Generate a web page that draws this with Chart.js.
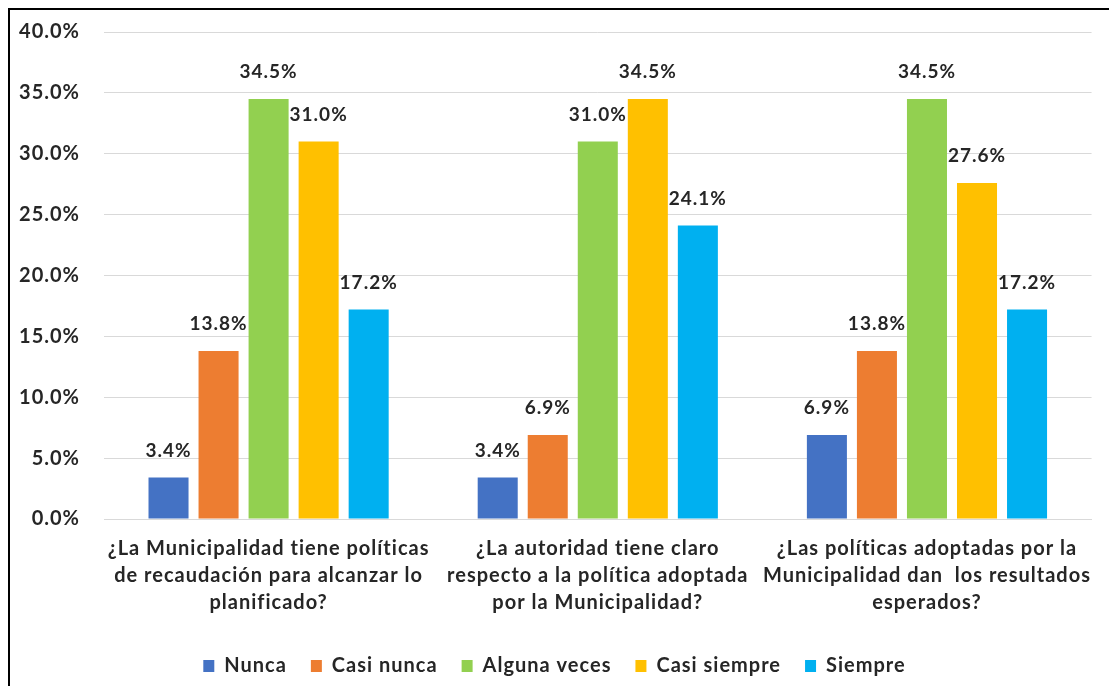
<!DOCTYPE html>
<html>
<head>
<meta charset="utf-8">
<script src="https://cdn.jsdelivr.net/npm/chart.js@4"></script>
<style>
  html, body { margin: 0; padding: 0; background: #fff; overflow: hidden; }
  #frame {
    position: absolute; left: 8px; top: 8px; width: 1120px; height: 700px;
    border-left: 2px solid #000; border-top: 2px solid #000;
  }
  #wrap { position: absolute; left: 0; top: 0; width: 1109px; height: 686px; }
</style>
</head>
<body>
<div id="frame"></div>
<div id="wrap"><canvas id="chart"></canvas></div>
<script>
// Datos
const categories = [
  ["¿La Municipalidad tiene políticas", "de recaudación para alcanzar lo", "planificado?"],
  ["¿La autoridad tiene claro", "respecto a la política adoptada", "por la Municipalidad?"],
  ["¿Las políticas adoptadas por la", "Municipalidad dan  los resultados", "esperados?"]
];
const seriesNames = ["Nunca", "Casi nunca", "Alguna veces", "Casi siempre", "Siempre"];
const nunca = [3.4, 3.4, 6.9];
const casiNunca = [13.8, 6.9, 13.8];
const algunaVeces = [34.5, 31.0, 34.5];
const casiSiempre = [31.0, 34.5, 27.6];
const siempre = [17.2, 24.1, 17.2];
const yTicks = [0, 5, 10, 15, 20, 25, 30, 35, 40];

const colors = ["#4472C4", "#ED7D31", "#92D050", "#FFC000", "#00B0F0"];
const seriesValues = [nunca, casiNunca, algunaVeces, casiSiempre, siempre];

const FONT = "Lato, 'Open Sans', sans-serif";
const TEXT = "#262626";

// el texto del original es algo espaciado
const spacing = {
  id: "spacing",
  beforeUpdate(chart) { chart.ctx.letterSpacing = "1px"; },
  beforeDraw(chart) { chart.ctx.letterSpacing = "1px"; }
};

// etiquetas encima de cada barra
const valueLabels = {
  id: "valueLabels",
  afterDatasetsDraw(chart) {
    const ctx = chart.ctx;
    ctx.save();
    ctx.font = "bold 19px " + FONT;
    ctx.fillStyle = TEXT;
    ctx.textAlign = "center";
    ctx.textBaseline = "middle";
    chart.data.datasets.forEach((ds, i) => {
      chart.getDatasetMeta(i).data.forEach((bar, j) => {
        ctx.fillText(ds.data[j].toFixed(1) + "%", bar.x, bar.y - 27);
      });
    });
    ctx.restore();
  }
};

new Chart(document.getElementById("chart"), {
  type: "bar",
  data: {
    labels: categories,
    datasets: seriesNames.map((name, i) => ({
      label: name,
      data: seriesValues[i],
      backgroundColor: colors[i],
      categoryPercentage: 0.76,
      barPercentage: 0.8
    }))
  },
  options: {
    responsive: true,
    maintainAspectRatio: false,
    animation: false,
    layout: { padding: { left: 12, right: 12, top: 14, bottom: 0 } },
    scales: {
      x: {
        grid: { display: false, drawTicks: false },
        border: { display: true, color: "#d9d9d9", width: 1 },
        ticks: {
          color: TEXT,
          font: { family: FONT, size: 20, weight: "bold", lineHeight: 1.35 },
          maxRotation: 0,
          autoSkip: false,
          padding: 16
        }
      },
      y: {
        min: 0,
        max: 40,
        afterBuildTicks: (axis) => { axis.ticks = yTicks.map((v) => ({ value: v })); },
        afterFit: (axis) => { axis.width = 92; },
        grid: { color: "#d9d9d9", lineWidth: 1, drawTicks: false },
        border: { display: false },
        ticks: {
          color: TEXT,
          font: { family: FONT, size: 20, weight: "bold", lineHeight: 0.8 },
          padding: 24,
          callback: (v) => v.toFixed(1) + "%"
        }
      }
    },
    plugins: {
      legend: {
        position: "bottom",
        labels: {
          color: TEXT,
          font: { family: FONT, size: 20, weight: "bold" },
          boxWidth: 11,
          boxHeight: 12,
          padding: 24
        }
      },
      tooltip: { enabled: false }
    }
  },
  plugins: [spacing, valueLabels]
});
</script>
</body>
</html>
